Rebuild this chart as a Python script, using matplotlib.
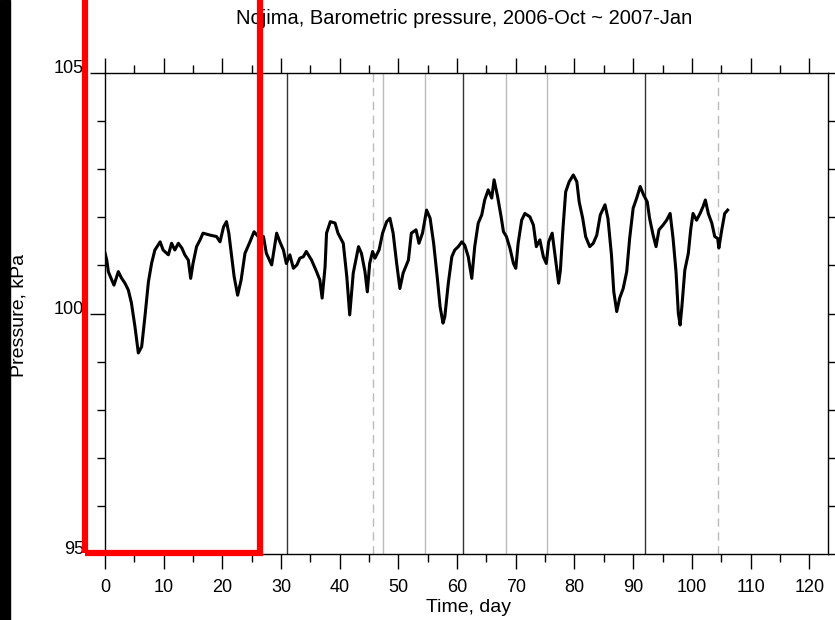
import matplotlib
matplotlib.use('Agg')
import matplotlib.pyplot as plt
from matplotlib.patches import Rectangle
from matplotlib.ticker import MultipleLocator

plt.rcParams['font.family'] = ['Liberation Sans', 'DejaVu Sans']

# pressure record (day, kPa)
days = [0.0, 0.3, 0.57, 1.14, 1.53, 2.27, 2.8, 3.4, 3.97, 4.5, 5.1, 5.68, 6.25, 6.8,
        7.4, 7.95, 8.5, 9.4, 9.9, 10.8, 11.35, 11.9, 12.5, 13.1, 13.6, 14.2, 14.6,
        15.0, 15.6, 16.2, 16.7, 17.9, 19.0, 19.6, 20.2, 20.7, 21.1, 21.6, 22.0, 22.6,
        23.2, 23.85, 24.7, 25.4, 26.1, 27.0, 27.5, 28.4, 29.25, 29.8, 30.4, 30.9,
        31.5, 32.1, 32.7, 33.2, 33.8, 34.3, 35.2, 36.05, 36.6, 37.0, 37.5, 37.75,
        38.4, 39.2, 39.7, 40.6, 41.2, 41.7, 42.3, 43.2, 43.7, 44.3, 44.7, 45.1,
        45.6, 46.0, 46.7, 47.3, 48.0, 48.55, 49.1, 49.7, 50.25, 50.8, 51.7, 52.2,
        53.0, 53.5, 54.1, 54.8, 55.4, 56.0, 56.6, 57.1, 57.6, 57.9, 58.2, 58.5,
        59.1, 59.6, 60.2, 60.8, 61.3, 61.9, 62.5, 63.0, 63.6, 64.2, 64.7, 65.3,
        65.9, 66.3, 66.9, 67.5, 67.9, 68.4, 69.0, 69.6, 70.0, 70.4, 71.0, 71.55,
        72.4, 73.0, 73.5, 74.1, 74.7, 75.2, 75.6, 76.2, 76.8, 77.3, 77.6, 78.0,
        78.5, 79.1, 79.8, 80.4, 80.8, 81.4, 81.9, 82.6, 83.2, 83.8, 84.4, 85.2,
        85.7, 86.3, 86.7, 87.2, 87.7, 88.3, 88.9, 89.4, 90.0, 90.6, 91.2, 91.8,
        92.4, 92.8, 93.4, 93.9, 94.4, 95.1, 95.7, 96.3, 96.8, 97.3, 97.7, 98.0,
        98.3, 98.8, 99.4, 99.8, 100.2, 100.8, 101.4, 101.9, 102.3, 102.8, 103.4,
        103.9, 104.4, 104.6, 105.1, 105.6, 106.1]
pressure = [101.26, 101.11, 100.87, 100.70, 100.59, 100.87, 100.74, 100.63, 100.49,
            100.22, 99.73, 99.18, 99.31, 99.93, 100.66, 101.05, 101.32, 101.49,
            101.32, 101.22, 101.46, 101.32, 101.46, 101.36, 101.22, 101.11, 100.73,
            101.04, 101.39, 101.53, 101.67, 101.63, 101.60, 101.49, 101.80, 101.91,
            101.67, 101.18, 100.77, 100.38, 100.70, 101.25, 101.49, 101.70, 101.60,
            101.60, 101.25, 101.01, 101.67, 101.49, 101.32, 101.04, 101.22, 100.94,
            101.01, 101.15, 101.18, 101.29, 101.11, 100.87, 100.70, 100.32, 100.97,
            101.67, 101.91, 101.88, 101.67, 101.46, 100.77, 99.97, 100.84, 101.39,
            101.25, 100.87, 100.45, 101.04, 101.29, 101.15, 101.32, 101.67, 101.91,
            101.98, 101.67, 101.04, 100.52, 100.84, 101.11, 101.67, 101.74, 101.46,
            101.67, 102.15, 101.98, 101.46, 100.77, 100.14, 99.80, 99.93, 100.28,
            100.63, 101.18, 101.32, 101.39, 101.49, 101.42, 101.18, 100.73, 101.39,
            101.88, 102.05, 102.36, 102.57, 102.40, 102.78, 102.43, 102.01, 101.70,
            101.60, 101.36, 101.04, 100.94, 101.46, 101.94, 102.08, 102.01, 101.84,
            101.39, 101.53, 101.18, 101.04, 101.49, 101.67, 101.11, 100.63, 100.90,
            101.70, 102.53, 102.74, 102.88, 102.74, 102.32, 101.98, 101.60, 101.39,
            101.46, 101.63, 102.05, 102.26, 101.98, 101.22, 100.45, 100.04, 100.32,
            100.52, 100.87, 101.56, 102.19, 102.40, 102.64, 102.46, 102.32, 101.98,
            101.63, 101.39, 101.74, 101.84, 101.94, 102.08, 101.56, 100.87, 100.00,
            99.76, 100.14, 100.90, 101.25, 101.74, 102.08, 101.94, 102.08, 102.22,
            102.36, 102.08, 101.88, 101.60, 101.56, 101.36, 101.74, 102.08, 102.15]

# vertical marker lines (day)
month_lines = [31, 61, 92]
gray_lines = [47.4, 54.5, 68.3, 75.4]
gray_dashed = [45.7, 104.5]

fig = plt.figure(figsize=(8.35, 6.2), dpi=100)
ax = fig.add_axes([105 / 835, 1 - 554 / 620, (828 - 105) / 835, (554 - 73) / 620])

for d in month_lines:
    ax.axvline(d, color='#333333', lw=1.0, zorder=1)
for d in gray_lines:
    ax.axvline(d, color='#bbbbbb', lw=1.0, zorder=1)
for d in gray_dashed:
    ax.axvline(d, color='#bbbbbb', lw=1.0, ls=(0, (6, 4)), zorder=1)

ax.plot(days, pressure, color='black', lw=2.2, zorder=3)

ax.set_xlim(0, 123.2)
ax.set_ylim(95, 105)
ax.xaxis.set_major_locator(MultipleLocator(10))
ax.xaxis.set_minor_locator(MultipleLocator(5))
ax.yaxis.set_major_locator(MultipleLocator(5))
ax.yaxis.set_minor_locator(MultipleLocator(1))
ax.tick_params(which='both', direction='out', top=True, right=True, width=1.0,
               color='black', labelsize=13)
ax.tick_params(which='major', length=11)
ax.tick_params(which='minor', length=6)
ax.tick_params(axis='x', pad=7)
ax.tick_params(axis='y', pad=4)
for lab in ax.get_yticklabels():
    lab.set_va('baseline')
for sp in ax.spines.values():
    sp.set_linewidth(1.0)

fig.text(464 / 835, 1 - 18 / 620, 'Nojima, Barometric pressure, 2006-Oct ~ 2007-Jan',
         ha='center', va='center', fontsize=14.5)
fig.text(468 / 835, 1 - 607 / 620, 'Time, day', ha='center', va='center', fontsize=14)
fig.text(19 / 835, 1 - 315 / 620, 'Pressure, kPa', ha='center', va='center',
         rotation=90, fontsize=14)

# black strip on the left edge and the red highlight box
fig.add_artist(Rectangle((0, 0), 10 / 835, 1, transform=fig.transFigure,
                         color='black', zorder=10))
fig.add_artist(Rectangle((84.5 / 835, 1 - 553 / 620), (259.7 - 84.5) / 835, 0.95,
                         transform=fig.transFigure, fill=False, edgecolor='#ff0000',
                         lw=4.5, zorder=11, clip_on=False))

fig.savefig('out.png', dpi=100)
